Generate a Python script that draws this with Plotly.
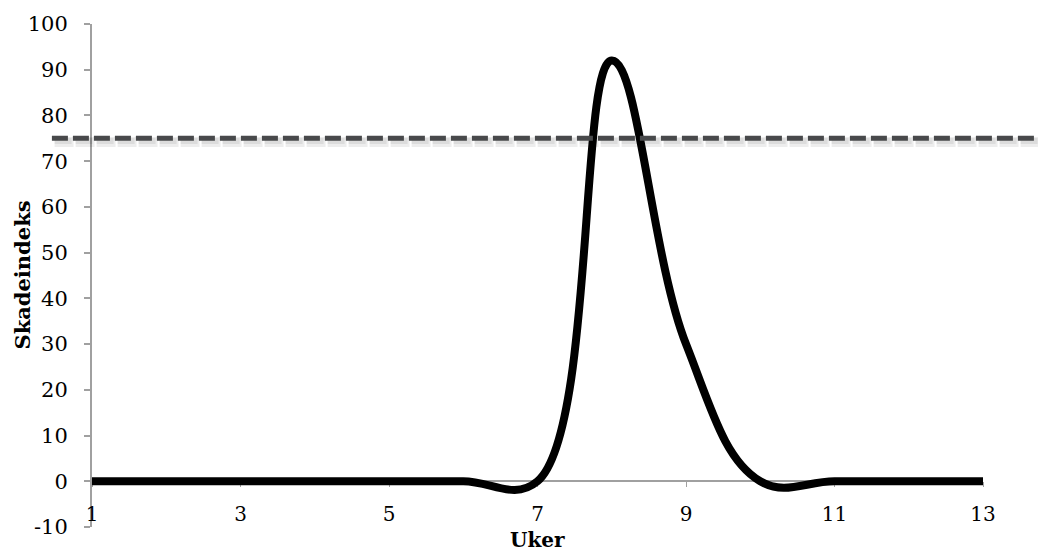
import plotly.graph_objects as go

weeks = [1, 2, 3, 4, 5, 6, 7, 8, 9, 10, 11, 12, 13]
damage_index = [0, 0, 0, 0, 0, 0, 0, 92, 30, 0, 0, 0, 0]
threshold = 75
x_ticks = [1, 3, 5, 7, 9, 11, 13]
y_ticks = [-10, 0, 10, 20, 30, 40, 50, 60, 70, 80, 90, 100]

FONT = "DejaVu Serif"

fig = go.Figure()
fig.add_trace(go.Scatter(
    x=weeks, y=damage_index, mode="lines",
    line=dict(color="black", width=8, shape="spline", smoothing=1.15),
    hoverinfo="skip", showlegend=False,
))

# shadow of threshold line
fig.add_shape(type="line", xref="paper", yref="y",
              x0=-0.042, x1=1.07, y0=threshold - 0.8, y1=threshold - 0.8,
              line=dict(color="rgba(0,0,0,0.07)", width=10, dash="19px,2px"), layer="above")
fig.add_shape(type="line", xref="paper", yref="y",
              x0=-0.042, x1=1.07, y0=threshold - 0.6, y1=threshold - 0.6,
              line=dict(color="rgba(0,0,0,0.07)", width=6, dash="17px,4px"), layer="above")
# threshold dashed line
fig.add_shape(type="line", xref="paper", yref="y",
              x0=-0.045, x1=1.07, y0=threshold, y1=threshold,
              line=dict(color="#48494b", width=5, dash="16px,5px"), layer="above")

fig.add_annotation(text="<b>Skadeindeks</b>", xref="paper", yref="paper",
                   x=(22 - 92) / 891, y=0.5, textangle=-90, showarrow=False,
                   xanchor="center", yanchor="middle", font=dict(size=21))
fig.add_annotation(text="<b>Uker</b>", xref="paper", yref="paper",
                   x=0.5, y=(527 - 554) / 507, showarrow=False,
                   xanchor="center", yanchor="bottom", font=dict(size=20))

fig.update_layout(
    width=1038, height=554,
    margin=dict(l=92, r=55, t=20, b=27),
    paper_bgcolor="white", plot_bgcolor="white",
    font=dict(family=FONT, size=21, color="black"),
    xaxis=dict(
        range=[1, 13], tickvals=x_ticks, ticktext=[str(v) for v in x_ticks],
        showgrid=False, zeroline=False,
        showline=True, linecolor="#a0a0a0", linewidth=2,
        ticks="outside", ticklen=5, tickcolor="#a0a0a0", tickwidth=1,
        anchor="free", position=10 / 110,
        ticklabelstandoff=10, layer="below traces",
        tickfont=dict(size=20),
    ),
    yaxis=dict(
        range=[-10, 100], tickvals=y_ticks, ticktext=[str(v) for v in y_ticks],
        showgrid=False, zeroline=False,
        showline=True, linecolor="#a0a0a0", linewidth=2,
        ticks="outside", ticklen=6, tickcolor="#a0a0a0", tickwidth=2,
        ticklabelstandoff=12, layer="below traces",
    ),
)

fig.write_html("out.html")
